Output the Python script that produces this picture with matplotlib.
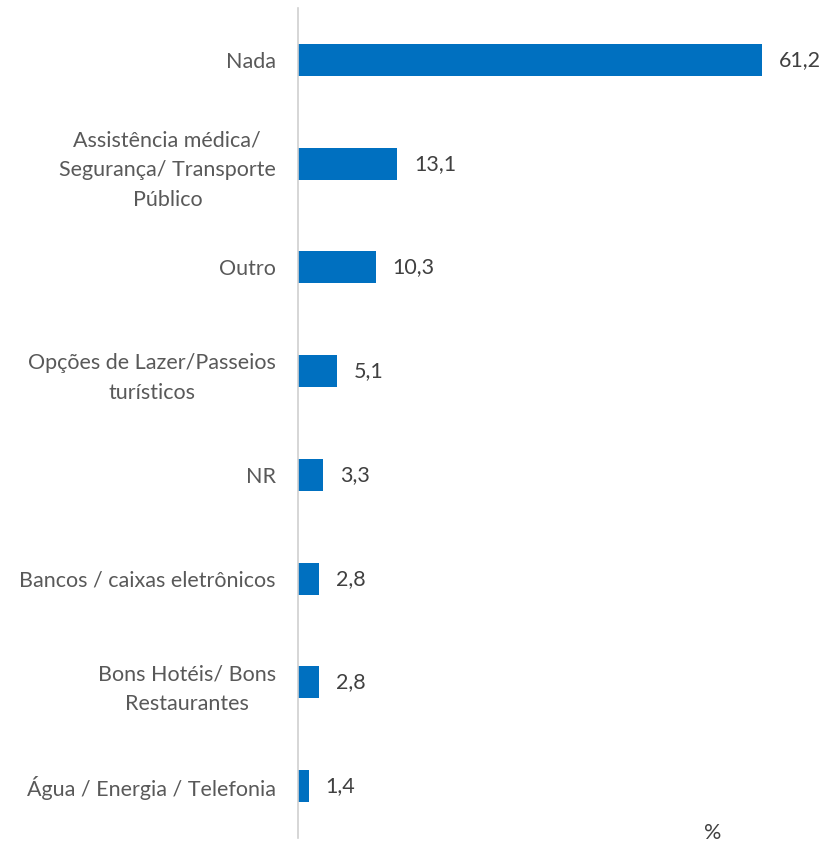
import matplotlib.pyplot as plt

# -----------------------------
# Data
# -----------------------------

categories = [
    "Nada",
    "Assistência médica/\nSegurança/ Transporte\nPúblico",
    "Outro",
    "Opções de Lazer/Passeios\nturísticos",
    "NR",
    "Bancos / caixas eletrônicos",
    "Bons Hotéis/ Bons\nRestaurantes",
    "Água / Energia / Telefonia",
]
values = [61.2, 13.1, 10.3, 5.1, 3.3, 2.8, 2.8, 1.4]
value_labels = ["61,2", "13,1", "10,3", "5,1", "3,3", "2,8", "2,8", "1,4"]

# -----------------------------
# Style
# -----------------------------

plt.rcParams["font.family"] = ["Lato", "DejaVu Sans"]

bar_color = "#0070C0"
axis_color = "#D0D0D0"

# -----------------------------
# Figure
# -----------------------------

fig = plt.figure(figsize=(8.25, 8.46), dpi=100)
ax = fig.add_axes([298 / 825, 8 / 846, 1 - 298 / 825, 830 / 846])

positions = list(range(len(categories)))
ax.barh(positions, values, height=0.31, color=bar_color)

ax.set_ylim(len(categories) - 0.5, -0.5)
ax.set_xlim(0, (825 - 298) / 7.58)

ax.set_yticks(positions)
ax.set_yticklabels(categories, fontsize=15.5, color="#595959", ha="right",
                   multialignment="center", linespacing=1.6)
ax.tick_params(axis="y", length=0, pad=16)
ax.set_xticks([])

for side in ["top", "right", "bottom"]:
    ax.spines[side].set_visible(False)
ax.spines["left"].set_color(axis_color)
ax.spines["left"].set_linewidth(1.2)

for pos, val, lab in zip(positions, values, value_labels):
    ax.text(val + 2.2, pos, lab, va="center", ha="left",
            fontsize=15.5, color="#404040")

# unit note at the bottom
fig.text(713 / 825, 1 - 833 / 846, "%", ha="center", va="center",
         fontsize=15.5, color="#404040")

fig.savefig("out.png", dpi=100)
plt.close(fig)
